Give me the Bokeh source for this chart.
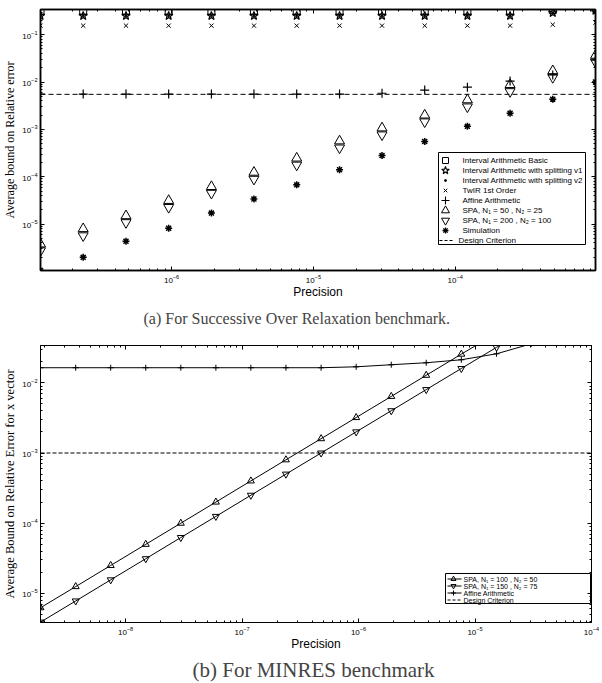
from bokeh.plotting import figure
from bokeh.models import (LogAxis, FixedTicker, LogTickFormatter, Title, Range1d,
                          LinearScale, CustomJSTickFormatter)
from bokeh.core.properties import value
from bokeh.layouts import column
from bokeh.embed import file_html
from bokeh.resources import INLINE

SANS = "Liberation Sans"
SERIF = "Liberation Serif"

# ---------------- (a) Successive Over Relaxation ----------------
sor_precision = [1.19e-7, 2.38e-7, 4.77e-7, 9.54e-7, 1.91e-6, 3.81e-6, 7.63e-6,
                 1.53e-5, 3.05e-5, 6.10e-5, 1.22e-4, 2.44e-4, 4.88e-4, 9.77e-4]
sor_ia_basic = [0.32, 0.32, 0.32, 0.32, 0.32, 0.32, 0.32,
                0.32, 0.32, 0.32, 0.32, 0.32, 0.33, 0.36]
sor_ia_split1 = [0.25, 0.25, 0.25, 0.25, 0.25, 0.25, 0.25,
                 0.25, 0.25, 0.25, 0.25, 0.25, 0.29, 0.32]
sor_ia_split2 = [0.25, 0.25, 0.25, 0.25, 0.25, 0.25, 0.25,
                 0.25, 0.25, 0.25, 0.25, 0.25, 0.29, 0.32]
sor_twir = [0.155, 0.155, 0.155, 0.155, 0.155, 0.155, 0.155,
            0.155, 0.155, 0.155, 0.155, 0.155, 0.163, 0.18]
sor_affine = [5.56e-3, 5.56e-3, 5.56e-3, 5.56e-3, 5.56e-3, 5.56e-3, 5.56e-3,
              5.56e-3, 5.8e-3, 6.76e-3, 7.8e-3, 1.05e-2, 1.41e-2, 2.9e-2]
sor_spa_50 = [3.8e-6, 8.0e-6, 1.5e-5, 3.15e-5, 6.2e-5, 1.24e-4, 2.47e-4,
              5.7e-4, 1.07e-3, 2.0e-3, 4.2e-3, 8.8e-3, 1.73e-2, 3.66e-2]
sor_spa_200 = [2.75e-6, 5.7e-6, 1.08e-5, 2.26e-5, 4.5e-5, 8.9e-5, 1.77e-4,
               4.07e-4, 7.7e-4, 1.45e-3, 3.0e-3, 6.3e-3, 1.25e-2, 2.63e-2]
sor_simulation = [1.05e-6, 1.99e-6, 4.35e-6, 8.2e-6, 1.71e-5, 3.4e-5, 6.76e-5,
                  1.41e-4, 2.8e-4, 5.56e-4, 1.16e-3, 2.2e-3, 4.35e-3, 1.0e-2]
sor_criterion = 5.5e-3
sor_xticks = [1e-6, 1e-5, 1e-4]
sor_yticks = [1e-5, 1e-4, 1e-3, 1e-2, 1e-1]
sor_labels = ["Interval Arithmetic Basic",
              "Interval Arithmetic with splitting v1",
              "Interval Arithmetic with splitting v2",
              "TwIR 1st Order",
              "Affine Arithmetic",
              "SPA, N\u2081 = 50 , N\u2082 = 25",
              "SPA, N\u2081 = 200 , N\u2082 = 100",
              "Simulation",
              "Design Criterion"]

# ---------------- (b) MINRES ----------------
mr_precision = [1.86e-9, 3.73e-9, 7.45e-9, 1.49e-8, 2.98e-8, 5.96e-8, 1.19e-7,
                2.38e-7, 4.77e-7, 9.54e-7, 1.91e-6, 3.81e-6, 7.63e-6, 1.53e-5,
                3.05e-5, 6.10e-5]
mr_spa_100 = [6.25e-6, 1.25e-5, 2.5e-5, 5.0e-5, 1.0e-4, 2.0e-4, 4.0e-4,
              8.0e-4, 1.6e-3, 3.2e-3, 6.4e-3, 1.28e-2, 2.56e-2, 5.1e-2,
              0.102, 0.205]
mr_spa_150 = [3.9e-6, 7.8e-6, 1.56e-5, 3.12e-5, 6.25e-5, 1.25e-4, 2.5e-4,
              5.0e-4, 1.0e-3, 2.0e-3, 4.0e-3, 8.0e-3, 1.6e-2, 3.2e-2,
              6.4e-2, 0.128]
mr_affine = [0.0164, 0.0164, 0.0164, 0.0164, 0.0164, 0.0164, 0.0164,
             0.0164, 0.0164, 0.0169, 0.0181, 0.0193, 0.0213, 0.0259,
             0.036, 0.055]
mr_criterion = 1e-3
mr_xticks = [1e-8, 1e-7, 1e-6, 1e-5, 1e-4]
mr_yticks = [1e-5, 1e-4, 1e-3, 1e-2]
mr_labels = ["SPA, N\u2081 = 100 , N\u2082 = 50",
             "SPA, N\u2081 = 150 , N\u2082 = 75",
             "Affine Arithmetic",
             "Design Criterion"]


def minor_ticks(lo_exp, hi_exp):
    return [m * 10.0 ** e for e in range(lo_exp, hi_exp) for m in range(2, 10)]


def setup(p, xticks, xminor, yticks, yminor, lw, fw, fh):
    xb = p.below[0]
    yl = p.left[0]
    xb.ticker = FixedTicker(ticks=xticks, minor_ticks=xminor)
    yl.ticker = FixedTicker(ticks=yticks, minor_ticks=yminor)
    xb.formatter = LogTickFormatter()
    yl.formatter = LogTickFormatter()
    blank = CustomJSTickFormatter(code="return ''")
    xt = LogAxis(ticker=FixedTicker(ticks=xticks, minor_ticks=xminor),
                 formatter=blank, major_label_text_font_size="1px",
                 major_label_standoff=0)
    yr = LogAxis(ticker=FixedTicker(ticks=yticks, minor_ticks=yminor),
                 formatter=blank, major_label_text_font_size="1px",
                 major_label_standoff=0)
    p.add_layout(xt, "above")
    p.add_layout(yr, "right")
    for ax in (xb, yl, xt, yr):
        ax.major_tick_in = 4
        ax.major_tick_out = 0
        ax.minor_tick_in = 2
        ax.minor_tick_out = 0
        ax.axis_line_color = "black"
        ax.axis_line_width = lw
        ax.major_tick_line_color = "black"
        ax.minor_tick_line_color = "black"
    for ax in (xb, yl):
        ax.major_label_text_font = SANS
        ax.major_label_text_font_size = "8px"
        ax.major_label_text_color = "black"
        ax.axis_label_text_font_style = "normal"
        ax.axis_label_text_color = "black"
    xb.major_label_standoff = 4
    yl.major_label_standoff = 3
    xb.axis_label = "Precision"
    xb.axis_label_text_font = SANS
    xb.axis_label_text_font_size = "12px"
    xb.axis_label_standoff = -1
    p.grid.visible = False
    p.outline_line_color = "black"
    p.outline_line_width = lw
    p.background_fill_color = "white"
    p.border_fill_color = "white"
    # pixel coordinate system inside the frame, used for the legend box
    p.extra_x_ranges = {"scr": Range1d(0, fw)}
    p.extra_y_ranges = {"scr": Range1d(0, fh)}
    p.extra_x_scales = {"scr": LinearScale()}
    p.extra_y_scales = {"scr": LinearScale()}
    return xb, yl


SCR = dict(x_range_name="scr", y_range_name="scr")

# ===================== figure (a) =====================
FW1, FH1 = 555, 261
p1 = figure(frame_width=FW1, frame_height=FH1, x_axis_type="log", y_axis_type="log",
            x_range=Range1d(1.19e-7, 9.77e-4), y_range=Range1d(1.05e-6, 0.34),
            output_backend="svg", toolbar_location=None,
            min_border_left=32, min_border_right=3, min_border_top=9,
            min_border_bottom=60)
xb1, yl1 = setup(p1, sor_xticks, minor_ticks(-7, -3), sor_yticks, minor_ticks(-6, 0),
                 1.5, FW1, FH1)
yl1.axis_label = "Average bound on Relative error"
yl1.axis_label_text_font = SERIF
yl1.axis_label_text_font_size = "12px"
yl1.axis_label_standoff = 2

p1.scatter(sor_precision, sor_ia_basic, marker="square", size=7,
           fill_color=None, line_color="black", line_width=1)
p1.scatter(sor_precision, sor_ia_split1, marker="star", size=9,
           fill_color=None, line_color="black", line_width=1.2)
p1.scatter(sor_precision, sor_ia_split2, marker="circle", size=2,
           fill_color="black", line_color="black")
p1.scatter(sor_precision, sor_twir, marker="x", size=6,
           line_color="black", line_width=1)
p1.scatter(sor_precision, sor_affine, marker="cross", size=9,
           line_color="black", line_width=1.2)
p1.scatter(sor_precision, sor_spa_50, marker="triangle", size=10,
           fill_color=None, line_color="black", line_width=1)
p1.scatter(sor_precision, sor_spa_200, marker="inverted_triangle", size=10,
           fill_color=None, line_color="black", line_width=1)
p1.scatter(sor_precision, sor_simulation, marker="asterisk", size=7,
           line_color="black", line_width=1.5)
p1.line([sor_precision[0], sor_precision[-1]], [sor_criterion, sor_criterion],
        line_color="black", line_width=1, line_dash="5 3")

# legend (drawn in frame pixel coordinates)
L1, R1, B1, T1 = 398, 545, 26, 118
rows1 = [110 - 10 * i for i in range(9)]
p1.quad(left=[L1], right=[R1], bottom=[B1], top=[T1], fill_color="white",
        line_color="black", line_width=1, **SCR)
mk = [("square", 6, None, 1), ("star", 8, None, 1.1), ("circle", 2, "black", 1),
      ("x", 5, None, 1), ("cross", 8, None, 1.1), ("triangle", 8, None, 1),
      ("inverted_triangle", 8, None, 1), ("asterisk", 6, None, 1.3)]
for i, (m, s, fc, lw) in enumerate(mk):
    p1.scatter([405], [rows1[i]], marker=m, size=s, fill_color=fc,
               line_color="black", line_width=lw, **SCR)
p1.line([L1 + 1, L1 + 16], [rows1[8], rows1[8]], line_color="black",
        line_width=1, line_dash="3 2", **SCR)
p1.text(x=[422] * 8 + [418], y=rows1, text=sor_labels, text_font=value(SANS),
        text_font_size=value("8px"), text_baseline="middle", text_color="black",
        **SCR)

cap1 = Title(text="(a) For Successive Over Relaxation benchmark.", align="left",
             text_font=SERIF, text_font_size="16px", text_font_style="normal",
             offset=103, standoff=13)
p1.add_layout(cap1, "below")

# ===================== figure (b) =====================
FW2, FH2 = 551, 277
p2 = figure(frame_width=FW2, frame_height=FH2, x_axis_type="log", y_axis_type="log",
            x_range=Range1d(1.86e-9, 1e-4), y_range=Range1d(3.85e-6, 0.034),
            output_backend="svg", toolbar_location=None,
            min_border_left=34, min_border_right=8, min_border_top=12,
            min_border_bottom=50)
xb2, yl2 = setup(p2, mr_xticks, minor_ticks(-9, -4), mr_yticks, minor_ticks(-6, -1),
                 1, FW2, FH2)
yl2.axis_label = "Average Bound on Relative Error for x vector"
yl2.axis_label_text_font = SERIF
yl2.axis_label_text_font_size = "12.5px"
yl2.axis_label_standoff = 2

p2.line(mr_precision, mr_spa_100, line_color="black", line_width=1)
p2.scatter(mr_precision, mr_spa_100, marker="triangle", size=7,
           fill_color=None, line_color="black", line_width=1)
p2.line(mr_precision, mr_spa_150, line_color="black", line_width=1)
p2.scatter(mr_precision, mr_spa_150, marker="inverted_triangle", size=7,
           fill_color=None, line_color="black", line_width=1)
p2.line(mr_precision, mr_affine, line_color="black", line_width=1)
p2.scatter(mr_precision, mr_affine, marker="cross", size=6,
           line_color="black", line_width=1)
p2.line([mr_precision[0], 1e-4], [mr_criterion, mr_criterion],
        line_color="black", line_width=1, line_dash="4 2")

L2, R2, B2, T2 = 405, 550, 19, 49
rows2 = [43.5 - 7 * i for i in range(4)]
p2.quad(left=[L2], right=[R2], bottom=[B2], top=[T2], fill_color="white",
        line_color="black", line_width=1, **SCR)
for i in range(4):
    p2.line([L2 + 2, L2 + 16], [rows2[i], rows2[i]], line_color="black",
            line_width=1, line_dash="3 2" if i == 3 else "solid", **SCR)
for i, m in enumerate(["triangle", "inverted_triangle", "cross"]):
    p2.scatter([L2 + 8], [rows2[i]], marker=m, size=5, fill_color=None,
               line_color="black", line_width=1, **SCR)
p2.text(x=[L2 + 18] * 4, y=rows2, text=mr_labels, text_font=value(SANS),
        text_font_size=value("7px"), text_baseline="middle", text_color="black",
        **SCR)

cap2 = Title(text="(b) For MINRES benchmark", align="left",
             text_font=SERIF, text_font_size="21px", text_font_style="normal",
             offset=152, standoff=5)
p2.add_layout(cap2, "below")

layout = column(p1, p2, spacing=0)
open("out.html", "w").write(file_html(layout, INLINE))
